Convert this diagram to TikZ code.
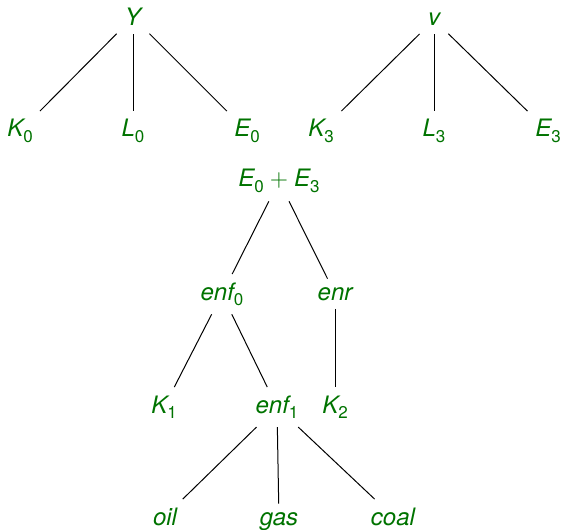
\documentclass[tikz,border=0pt]{standalone}
\usepackage{fontspec}
\setmainfont{TeX Gyre Heros}
\usepackage{tikz}
\usetikzlibrary{positioning}
\usepackage{xcolor}

\definecolor{leafgreen}{RGB}{0,115,0}
\newcommand{\lowsub}[1]{\raisebox{-0.45ex}{\upshape\fontsize{8.5}{9}\selectfont #1}}
\newcommand{\bigplus}{\hspace{3pt}$+$\hspace{3pt}}

\begin{document}
\begin{tikzpicture}[x=0.5pt, y=-0.5pt,
    lbl/.style={text=leafgreen, anchor=base, inner sep=4pt,
      font=\fontsize{12}{14}\selectfont\itshape},
    edge/.style={line width=0.5pt}]
  \useasboundingbox (0,0) rectangle (561,529);

  % Define nodes
  \node[lbl] (Y)  at (133,26)  {Y};
  \node[lbl] (K0) at (20,137)  {K\lowsub{0}};
  \node[lbl] (L0) at (133,137) {L\lowsub{0}};
  \node[lbl] (E0) at (247,137) {E\lowsub{0}};

  \node[lbl] (v)  at (434,26)  {v};
  \node[lbl] (K3) at (321,137) {K\lowsub{3}};
  \node[lbl] (L3) at (434,137) {L\lowsub{3}};
  \node[lbl] (E3) at (548,137) {E\lowsub{3}};

  \node[lbl] (E03)  at (279,187) {E\lowsub{0}\bigplus E\lowsub{3}};
  \node[lbl] (enf0) at (222,300) {enf\lowsub{0}};
  \node[lbl] (enr)  at (335,300) {enr};
  \node[lbl] (K1)   at (164,413) {K\lowsub{1}};
  \node[lbl] (enf1) at (277,413) {enf\lowsub{1}};
  \node[lbl] (K2)   at (335,413) {K\lowsub{2}};
  \node[lbl] (oil)  at (165,525) {oil};
  \node[lbl] (gas)  at (279,525) {gas};
  \node[lbl] (coal) at (393,525) {coal};

  % Draw edges
  \draw[edge] (Y) -- (K0);
  \draw[edge] (Y) -- (L0);
  \draw[edge] (Y) -- (E0);
  \draw[edge] (v) -- (K3);
  \draw[edge] (v) -- (L3);
  \draw[edge] (v) -- (E3);
  \draw[edge] (E03) -- (enf0);
  \draw[edge] (E03) -- (enr);
  \draw[edge] (enf0) -- (K1);
  \draw[edge] (enf0) -- (enf1);
  \draw[edge] (enr) -- (K2);
  \draw[edge] (enf1) -- (oil);
  \draw[edge] (enf1) -- (gas);
  \draw[edge] (enf1) -- (coal);
\end{tikzpicture}
\end{document}
